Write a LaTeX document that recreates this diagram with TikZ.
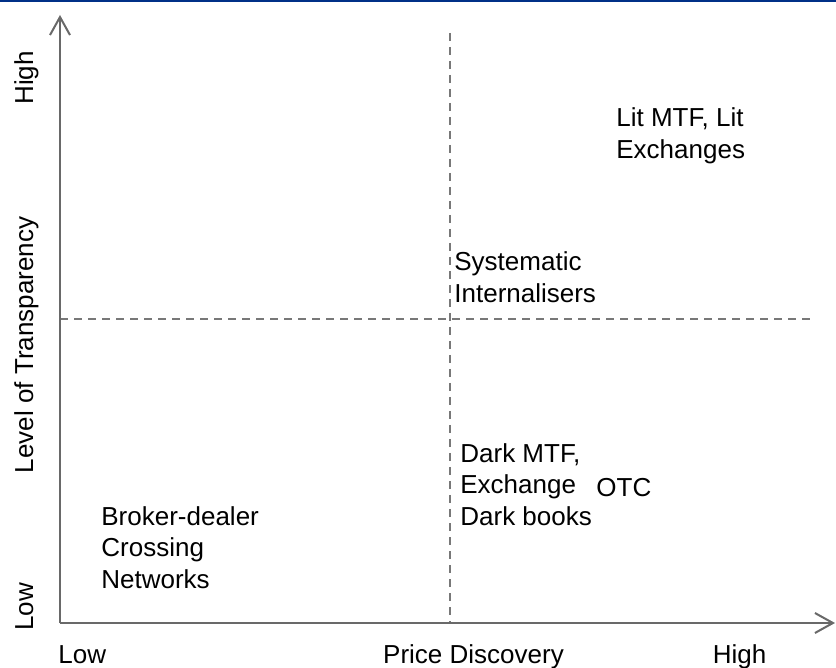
\documentclass[tikz,border=0pt]{standalone}
\usepackage{fontspec}
\setmainfont{Liberation Sans}
\usetikzlibrary{arrows.meta}
\definecolor{barblue}{RGB}{0,48,135}
\definecolor{axisgray}{RGB}{105,105,105}
\definecolor{dashgray}{RGB}{120,120,120}
\tikzset{
    lbl/.style={inner sep=0, font=\fontsize{13}{15.75}\selectfont, align=left},
    axis/.style={draw=axisgray, line width=1pt, -{Straight Barb[length=9pt,width=10pt]}},
    divider/.style={draw=dashgray, line width=0.65pt, dash pattern=on 4pt off 3pt}
}
\begin{document}
\begin{tikzpicture}[x=0.5pt, y=-0.5pt]
        \useasboundingbox (0,0) rectangle (836,668);
        \fill[barblue] (0,0) rectangle (836,2.5);

        \coordinate (O) at (60,623);
        \coordinate (Ytip) at (60,15);
        \coordinate (Xtip) at (835,623);
        \coordinate (Vtop) at (450,33);
        \coordinate (Vbot) at (450,623);
        \coordinate (Hleft) at (60,319);
        \coordinate (Hright) at (810,319);

        \draw[divider] (Vtop) -- (Vbot);
        \draw[divider] (Hleft) -- (Hright);
        \draw[axis] (O) -- (Ytip);
        \draw[axis] (O) -- (Xtip);

        % base anchor = baseline of the last line
        \node[lbl, anchor=base west] (lit) at (616,158.5) {Lit MTF, Lit\\Exchanges};
        \node[lbl, anchor=base west] (sysint) at (454,302.5) {Systematic\\Internalisers};
        \node[lbl, anchor=base west] (dark) at (460,525) {Dark MTF,\\Exchange\\Dark books};
        \node[lbl, anchor=base west] (otc) at (596,496) {OTC};
        \node[lbl, anchor=base west] (broker) at (101,588) {Broker-dealer\\Crossing\\Networks};

        \node[lbl, anchor=base west] (xlow) at (58,663) {Low};
        \node[lbl, anchor=base] (xmid) at (473.5,663) {Price Discovery};
        \node[lbl, anchor=base] (xhigh) at (739.5,663) {High};

        \node[lbl, anchor=base, rotate=90] (ylow) at (33,607) {Low};
        \node[lbl, anchor=base, rotate=90] (ymid) at (33,345) {Level of Transparency};
        \node[lbl, anchor=base, rotate=90] (yhigh) at (33,78) {High};
    \end{tikzpicture}
\end{document}
